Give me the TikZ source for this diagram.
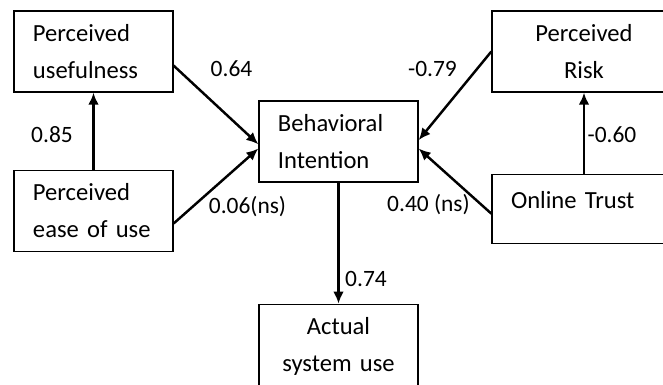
\documentclass[tikz,border=0pt]{standalone}
\usepackage{fontspec}
\setmainfont{Carlito}
\usetikzlibrary{positioning,arrows.meta}
\tikzset{
	box/.style = {draw, minimum height=2.43cm, inner xsep=0.57cm,
	 font=\fontsize{21}{31.6}\selectfont},
	lbox/.style = {box, align=left},
	cbox/.style = {box, align=center},
	coef/.style = {inner sep=0pt, font=\fontsize{20}{24}\selectfont},
	link/.style = {-{Latex[length=0.36cm,width=0.32cm]}, line width=2.1pt}}

\begin{document}
\begin{tikzpicture}[x=0.03cm, y=-0.03cm, line width=1.1pt]
\useasboundingbox (0,0) rectangle (663,384);

% NODES
% left side
\node (pu) [lbox, text width=3.63cm] at (93.5,51.5) {Perceived\\usefulness};
\node (peou) [lbox, text width=3.63cm, below=2.31cm of pu] {Perceived\\ease of use};
% middle
\node (bi) [lbox, text width=3.63cm] at (338.5,141.5) {Behavioral\\Intention};
\node (asu) [cbox, text width=3.63cm, minimum height=2.52cm, below=3.63cm of bi] {Actual\\system use};
% right side
\node (pr) [cbox, text width=4.38cm] at (584,51.5) {Perceived\\Risk};
\node (ot) [lbox, text width=4.38cm, minimum height=2.07cm, text height=14pt, text depth=14pt,
 below=2.43cm of pr] {Online Trust};
% coefficients
\node (peoupu) [coef] at (52,135) {0.85};
\node (pubi) [coef] at (231.5,69) {0.64};
\node (peoubi) [coef] at (247.5,207) {0.06(ns)};
\node (prbi) [coef] at (432.5,69) {-0.79};
\node (otbi) [coef] at (428.5,205) {0.40 (ns)};
\node (otpr) [coef] at (612,135) {-0.60};
\node (biasu) [coef] at (366,279) {0.74};

%CONNECTIONS
\draw [link] (peou) -- (pu);
\draw [link] (pu.-10) -- (bi.182);
\draw [link] (peou.-9) -- (bi.185);
\draw [link] (pr.west) -- (bi.1);
\draw [link] (ot.183) -- (bi.-5);
\draw [link] (ot) -- (pr);
\draw [link] (bi) -- (asu);

\end{tikzpicture}
\end{document}
